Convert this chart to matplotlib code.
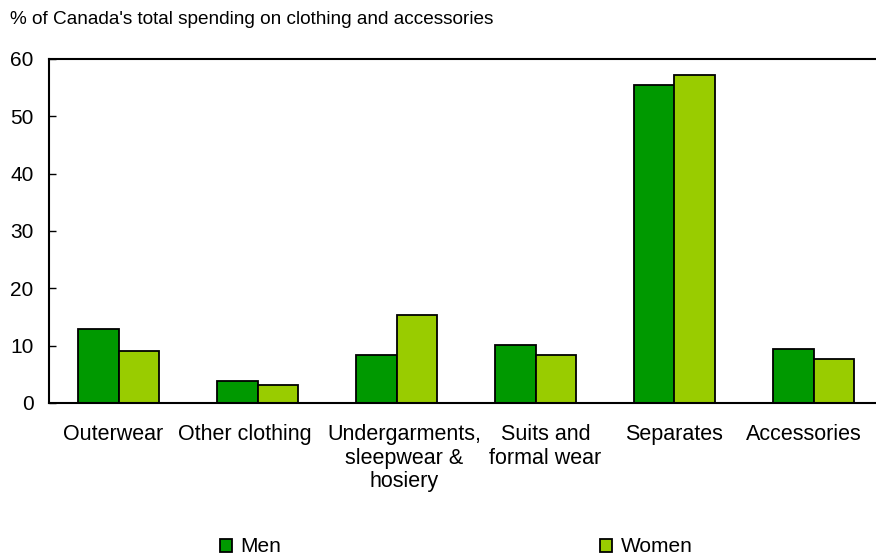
import matplotlib.pyplot as plt
import matplotlib.transforms as mtransforms
import numpy as np

plt.rcParams['font.family'] = ['Liberation Sans', 'DejaVu Sans']

categories = ["Outerwear", "Other clothing", "Undergarments,\nsleepwear &\nhosiery",
              "Suits and\nformal wear", "Separates", "Accessories"]
men = [12.9, 3.8, 8.4, 10.1, 55.5, 9.4]
women = [9.1, 3.1, 15.3, 8.4, 57.2, 7.7]
yticks = [0, 10, 20, 30, 40, 50, 60]

fig = plt.figure(figsize=(8.76, 5.6), dpi=100)
ax = fig.add_axes([49 / 876, 1 - 403 / 560, 834 / 876, 344 / 560])

x = np.arange(len(categories))
w = 0.29
ax.bar(x - w / 2, men, w, color='#009900', edgecolor='black', linewidth=1.3, label='Men')
ax.bar(x + w / 2, women, w, color='#99cc00', edgecolor='black', linewidth=1.3, label='Women')

ax.set_xlim(-0.5, len(categories) - 0.5)
ax.set_ylim(0, 60)
ax.set_yticks(yticks)
ax.tick_params(axis='y', direction='in', length=5, width=1, labelsize=15, pad=11)
ax.set_xticks(x)
ax.set_xticklabels(categories, fontsize=15.5, linespacing=1.17)
ax.tick_params(axis='x', length=0, pad=15)
for s in ax.spines.values():
    s.set_linewidth(1.5)

# nudge category labels sideways so neighbours don't collide (as in the original)
nudges = [-5, -13, 8, 10, 0, -10]
for lab, dx in zip(ax.get_xticklabels(), nudges):
    lab.set_transform(lab.get_transform() +
                      mtransforms.ScaledTranslation(dx / 100, 0, fig.dpi_scale_trans))

fig.text(10 / 876, 1 - 19 / 560, "% of Canada's total spending on clothing and accessories",
         fontsize=13.7, va='center', ha='left')

# legend entries placed like the original (spread apart)
h, l = ax.get_legend_handles_labels()
fig.legend([h[0]], [l[0]], loc='center left', bbox_to_anchor=(201 / 876, 1 - 547 / 560),
           frameon=False, fontsize=15, handlelength=0.6, handleheight=0.6, handletextpad=0.4)
fig.legend([h[1]], [l[1]], loc='center left', bbox_to_anchor=(581 / 876, 1 - 547 / 560),
           frameon=False, fontsize=15, handlelength=0.6, handleheight=0.6, handletextpad=0.4)

fig.savefig('out.png', dpi=100)
